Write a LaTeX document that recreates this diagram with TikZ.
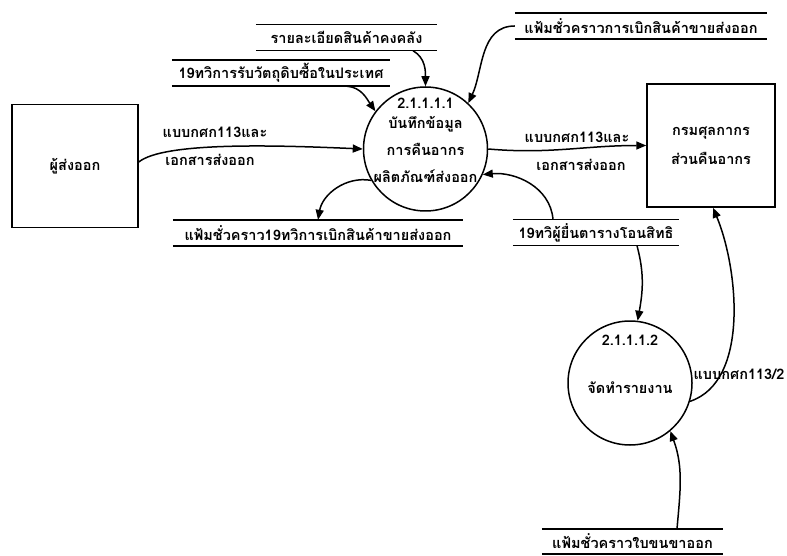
\documentclass[tikz,border=0pt]{standalone}
\usepackage{fontspec}
\newfontfamily\thaifont[Script=Thai]{Loma}
\usetikzlibrary{arrows.meta, positioning}

\begin{document}
\begin{tikzpicture}[x=1pt, y=1pt,
  every node/.style={font=\thaifont\bfseries\fontsize{14.5}{17}\selectfont},
  box/.style={
    rectangle, draw=black, line width=1.5pt,
    minimum width=126pt, minimum height=123pt, align=center
  },
  proc/.style={circle, draw=black, line width=1.5pt, minimum size=124pt, inner sep=0pt},
  store/.style={inner sep=0pt, minimum height=26pt},
  arr/.style={-{Triangle[length=10pt,width=8pt]}, line width=1.5pt}
]
  \useasboundingbox (0,0) rectangle (787,555);

  % Entities
  \node[box] (exp) at (75,389) {ผู้ส่งออก};
  \node[box, minimum width=128pt] (cus) at (711,409.5) {กรมศุลกากร\\[12pt]ส่วนคืนอากร};

  % Processes
  \node[proc] (rec) at (425.5,406) {};
  \node[align=center] (rectxt) at ([yshift=9pt]rec.center)
    {2.1.1.1.1\\[3pt]บันทึกข้อมูล\\[10pt]การคืนอากร\\[10pt]ผลิตภัณฑ์ส่งออก};
  \node[proc] (rep) at (630,172) {};
  \node[align=center] (reptxt) at ([yshift=19pt]rep.center) {2.1.1.1.2\\[31pt]จัดทำรายงาน};

  % Data stores
  \node[store, minimum width=181pt] (inv)   at (346.5,517.5) {รายละเอียดสินค้าคงคลัง};
  \node[store, minimum width=218pt] (buy)   at (281,482)     {19ทวิการรับวัตถุดิบซื้อในประเทศ};
  \node[store, minimum width=252pt] (tmp)   at (641,529)     {แฟ้มชั่วคราวการเบิกสินค้าขายส่งออก};
  \node[store, minimum width=290pt] (tmpnt) at (318,322)     {แฟ้มชั่วคราว19ทวิการเบิกสินค้าขายส่งออก};
  \node[store, minimum width=166pt] (trans) at (596,322.5)   {19ทวิผู้ยื่นตารางโอนสิทธิ};
  \node[store, minimum width=181pt, minimum height=25pt] (shp) at (632.5,13.5) {แฟ้มชั่วคราวใบขนขาออก};
  \foreach \s in {inv,buy,tmp,tmpnt,trans,shp}
    \draw[line width=1.5pt] (\s.north west) -- (\s.north east) (\s.south west) -- (\s.south east);

  % Flows
  \draw[arr] ([xshift=66.5pt]inv.south) to[out=-30, in=90] (rec.90);
  \draw[arr] ([xshift=66pt]buy.south) to[out=-5, in=125] (rec.143);
  \draw[arr] (tmp.west) to[out=180, in=65] (rec.47);
  \draw[arr] ([yshift=4pt]exp.east) .. controls +(25,20) and +(-90,4) .. (rec.west);
  \draw[arr] (rec.east) to[out=-5, in=180] (cus.west);
  \draw[arr] (rec.210) to[out=170, in=80] (tmpnt.north);
  \draw[arr] ([xshift=-43pt]trans.north) to[out=95, in=5] (rec.-24);
  \draw[arr] ([xshift=41pt]trans.south) to[out=-75, in=80] (rep.83);
  \draw[arr] (rep.-17) .. controls +(60,20) and +(25,-60) .. ([xshift=2pt]cus.south);
  \draw[arr] ([xshift=44.5pt]shp.north) to[out=85, in=-70] (rep.-50);

  % Flow labels
  \node (expa) at (215,423) {แบบกศก113และ};
  \node (expb) at (210,395) {เอกสารส่งออก};
  \node (cusa) at (577,418) {แบบกศก113และ};
  \node (cusb) at (581,390) {เอกสารส่งออก};
  \node (repa) at (739,181) {แบบกศก113/2};
\end{tikzpicture}
\end{document}
